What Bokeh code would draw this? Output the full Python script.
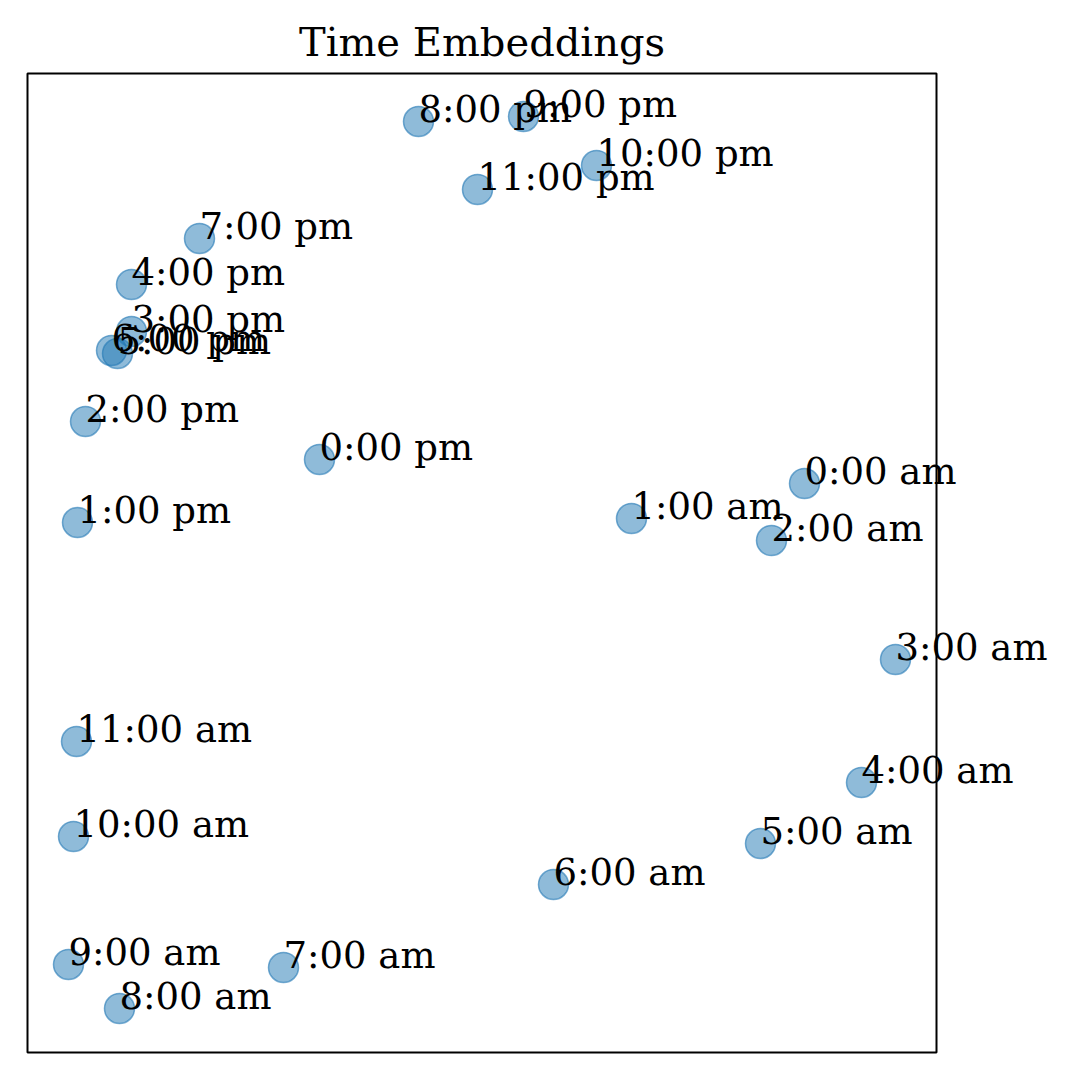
from bokeh.plotting import figure
from bokeh.models import ColumnDataSource, Range1d, LabelSet, Label, BoxAnnotation
from bokeh.core.properties import value
from bokeh.embed import file_html
from bokeh.resources import INLINE

labels = ["0:00 am", "1:00 am", "2:00 am", "3:00 am", "4:00 am", "5:00 am",
          "6:00 am", "7:00 am", "8:00 am", "9:00 am", "10:00 am", "11:00 am",
          "0:00 pm", "1:00 pm", "2:00 pm", "3:00 pm", "4:00 pm", "5:00 pm",
          "6:00 pm", "7:00 pm", "8:00 pm", "9:00 pm", "10:00 pm", "11:00 pm"]
x_vals = [7.77, 6.04, 7.44, 8.68, 8.34, 7.33,
          5.26, 2.56, 0.92, 0.41, 0.46, 0.49,
          2.92, 0.50, 0.58, 1.04, 1.04, 0.90,
          0.84, 1.72, 3.91, 4.96, 5.69, 4.50]
y_vals = [5.69, 5.34, 5.12, 3.93, 2.70, 2.09,
          1.68, 0.85, 0.44, 0.88, 2.16, 3.11,
          5.93, 5.30, 6.31, 7.21, 7.68, 6.99,
          7.02, 8.14, 9.31, 9.36, 8.87, 8.63]

# axes limits of the plotted box (data units)
x_lo, x_hi = 0.0, 9.09
y_lo, y_hi = 0.0, 9.79

src = ColumnDataSource(dict(x=x_vals, y=y_vals, label=labels))

# frame covers the whole canvas so labels can overflow the axes box
p = figure(width=1064, height=1064, output_backend="svg", toolbar_location=None,
           x_range=Range1d(x_lo - 0.27, x_hi + 1.28),
           y_range=Range1d(y_lo - 0.12, y_hi + 0.73),
           min_border=0, min_border_left=0, min_border_right=0,
           min_border_top=0, min_border_bottom=0)
p.axis.visible = False
p.xgrid.visible = False
p.ygrid.visible = False
p.outline_line_color = None
p.background_fill_color = "white"
p.border_fill_color = "white"

box = BoxAnnotation(left=x_lo, right=x_hi, bottom=y_lo, top=y_hi,
                    fill_color=None, fill_alpha=0, line_color="black",
                    line_width=2, line_alpha=1.0, level="underlay")
p.add_layout(box)

p.scatter("x", "y", source=src, size=30, fill_color="#1f77b4", fill_alpha=0.5,
          line_color="#1f77b4", line_alpha=0.6, line_width=1.5)
lbl = LabelSet(x="x", y="y", text="label", source=src,
               text_font=value("DejaVu Serif"),
               text_font_size=value("37px"), text_align="left",
               text_baseline="alphabetic", text_color="black")
p.add_layout(lbl)

title = Label(x=(x_lo + x_hi) / 2, y=y_hi + 0.32, text="Time Embeddings",
              text_font="DejaVu Serif", text_font_size="40px",
              text_align="center", text_baseline="alphabetic",
              text_color="black")
p.add_layout(title)

open("out.html", "w").write(file_html(p, INLINE))
